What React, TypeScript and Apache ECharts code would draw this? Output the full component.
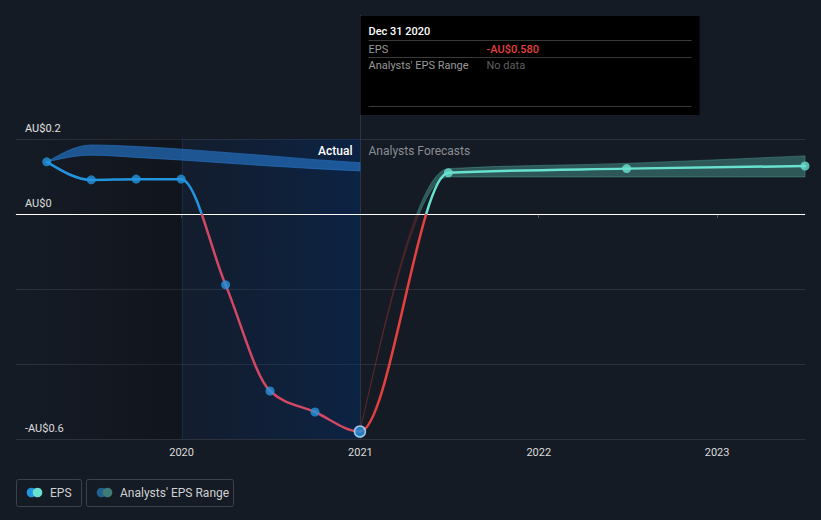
import React, { useEffect, useRef } from 'react';
import * as echarts from 'echarts';

const actualDates = ['2019-03-31', '2019-06-30', '2019-09-30', '2019-12-31', '2020-03-31', '2020-06-30', '2020-09-30', '2020-12-31'];
const actualEps = [0.139, 0.091, 0.093, 0.093, -0.189, -0.472, -0.528, -0.58];
const pastRangeLow = [0.139, 0.157, 0.151, 0.144, 0.136, 0.128, 0.121, 0.115];
const pastRangeHigh = [0.139, 0.184, 0.180, 0.173, 0.164, 0.155, 0.145, 0.137];

const forecastDates = ['2020-12-31', '2021-06-30', '2022-06-30', '2023-06-30'];
const forecastEps = [-0.58, 0.110, 0.121, 0.128];
const forecastLow = [-0.58, 0.099, 0.099, 0.099];
const forecastHigh = [-0.58, 0.121, 0.135, 0.155];

const yLabelValues = [0.2, 0, -0.6];
const xMin = '2019-01-27';
const xMax = '2023-06-30';
const splitDate = '2020-01-01';
const hoverDate = '2020-12-31';
const hoverTitle = 'Dec 31 2020';
const hoverEps = '-AU$0.580';
const hoverRange = 'No data';

const BG = '#151b25';
const BLUE = '#2394df';
const TEAL = '#68e1cf';
const RED = '#e5403f';
const RED_PAST = '#d24862';
const FONT = 'Roboto, "Noto Sans", sans-serif';

const fmtAU = (v: number) => (v < 0 ? `-AU$${Math.abs(v)}` : `AU$${v}`);
const ts = (s: string) => echarts.time.parse(s).getTime();

// the EPS line is one continuous curve: actuals then forecasts
const epsDates = [...actualDates, ...forecastDates.slice(1)];
const epsValues = [...actualEps, ...forecastEps.slice(1)];

// monotone cubic (Fritsch–Carlson) tangents in pixel space
function monoTangents(P: number[][]) {
  const n = P.length;
  const h: number[] = [];
  const s: number[] = [];
  for (let i = 0; i < n - 1; i++) {
    h[i] = P[i + 1][0] - P[i][0];
    s[i] = h[i] ? (P[i + 1][1] - P[i][1]) / h[i] : 0;
  }
  const m: number[] = new Array(n).fill(0);
  for (let i = 1; i < n - 1; i++) {
    const s0 = s[i - 1], s1 = s[i];
    const p = (s0 * h[i] + s1 * h[i - 1]) / (h[i - 1] + h[i]);
    m[i] = (Math.sign(s0) + Math.sign(s1)) * Math.min(Math.abs(s0), Math.abs(s1), 0.5 * Math.abs(p)) || 0;
  }
  if (n === 2) {
    m[0] = m[1] = s[0];
  } else {
    m[0] = (3 * s[0] - m[1]) / 2;
    m[n - 1] = (3 * s[n - 2] - m[n - 2]) / 2;
  }
  return m;
}
function segment(P: number[][], m: number[], i: number, j: number) {
  const dx = (P[j][0] - P[i][0]) / 3;
  return `C${P[i][0] + dx},${P[i][1] + dx * m[i]} ${P[j][0] - dx},${P[j][1] - dx * m[j]} ${P[j][0]},${P[j][1]}`;
}
function bandPath(U: number[][], L: number[][]) {
  const mu = monoTangents(U);
  const ml = monoTangents(L);
  let d = `M${U[0][0]},${U[0][1]}`;
  for (let i = 0; i < U.length - 1; i++) d += segment(U, mu, i, i + 1);
  const n = L.length;
  d += `L${L[n - 1][0]},${L[n - 1][1]}`;
  for (let i = n - 1; i > 0; i--) {
    const dx = (L[i][0] - L[i - 1][0]) / 3;
    d += `C${L[i][0] - dx},${L[i][1] - dx * ml[i]} ${L[i - 1][0] + dx},${L[i - 1][1] + dx * ml[i - 1]} ${L[i - 1][0]},${L[i - 1][1]}`;
  }
  return d + 'Z';
}

export default function App() {
  const ref = useRef<HTMLDivElement>(null);
  useEffect(() => {
    document.body.style.margin = '0';
    document.body.style.background = BG;
    const chart = echarts.init(ref.current!, null, { renderer: 'svg' });
    const pair = (d: string[], v: number[]) => d.map((x, i) => [ts(x), v[i]]);

    const splitGrad = (api: any, above: string, below: string) => {
      const top = api.coord([ts(xMin), 0.2])[1];
      const bottom = api.coord([ts(xMin), -0.6])[1];
      const zero = api.coord([ts(xMin), 0])[1];
      const f = (zero - top) / (bottom - top);
      return new echarts.graphic.LinearGradient(0, top, 0, bottom, [
        { offset: 0, color: above }, { offset: f, color: above },
        { offset: f, color: below }, { offset: 1, color: below },
      ], true);
    };

    const bandSeries = (dates: string[], lo: number[], hi: number[], above: string, below: string, z: number) => ({
      type: 'custom', z, silent: true, clip: false,
      data: dates.map((d, i) => [ts(d), lo[i], hi[i]]),
      encode: { x: 0, y: [1, 2] },
      renderItem: (params: any, api: any) => {
        if (params.dataIndex !== 0) return null;
        const U = dates.map((d, i) => api.coord([ts(d), hi[i]]));
        const L = dates.map((d, i) => api.coord([ts(d), lo[i]]));
        const g = splitGrad(api, above, below);
        return { type: 'path', shape: { pathData: bandPath(U, L) }, style: { fill: g, stroke: g, lineWidth: 1 } };
      },
    });

    chart.setOption({
      animation: false,
      backgroundColor: BG,
      textStyle: { fontFamily: FONT },
      grid: { left: 16, right: 16, top: 139, bottom: 81, containLabel: false },
      xAxis: {
        type: 'time',
        min: ts(xMin),
        max: ts(xMax),
        minInterval: 365 * 24 * 3600 * 1000,
        maxInterval: 366 * 24 * 3600 * 1000,
        axisLine: { lineStyle: { color: '#50555f', width: 1 } },
        axisTick: { show: true, length: 4, lineStyle: { color: '#50555f' } },
        axisLabel: {
          color: '#dcdcdc', fontSize: 11, fontFamily: FONT, margin: 8,
          showMinLabel: false, showMaxLabel: false,
          formatter: (v: number) => String(new Date(v).getFullYear()),
        },
        splitLine: { show: false },
      },
      yAxis: {
        type: 'value',
        min: -0.6,
        max: 0.2,
        interval: 0.2,
        axisLine: { show: false },
        axisTick: { show: false },
        splitLine: { lineStyle: { color: '#2c313b', width: 1 } },
        axisLabel: {
          inside: true,
          margin: 9,
          verticalAlign: 'bottom',
          padding: [0, 0, 5, 0],
          color: '#e2e2e2',
          fontSize: 11,
          fontFamily: FONT,
          formatter: (v: number) => {
            const t = yLabelValues.find((y) => Math.abs(y - v) < 1e-9);
            return t === undefined ? '' : fmtAU(t);
          },
        },
      },
      series: [
        bandSeries(actualDates, pastRangeLow, pastRangeHigh, 'rgba(35,110,190,0.7)', 'rgba(35,110,190,0.7)', 2),
        bandSeries(forecastDates, forecastLow, forecastHigh, 'rgba(75,160,150,0.45)', 'rgba(150,45,45,0.3)', 2),
        {
          type: 'custom', name: 'EPS', z: 3, silent: true, clip: false,
          data: pair(epsDates, epsValues),
          encode: { x: 0, y: 1 },
          renderItem: (params: any, api: any) => {
            const i = params.dataIndex;
            if (i >= epsDates.length - 1) return null;
            const P = epsDates.map((d, k) => api.coord([ts(d), epsValues[k]]));
            const m = monoTangents(P);
            const isActual = i < actualDates.length - 1;
            return {
              type: 'path',
              shape: { pathData: `M${P[i][0]},${P[i][1]}` + segment(P, m, i, i + 1) },
              style: {
                fill: 'none',
                stroke: splitGrad(api, isActual ? BLUE : TEAL, isActual ? RED_PAST : RED),
                lineWidth: 2.5,
                lineCap: 'round',
              },
            };
          },
        },
        {
          type: 'scatter', z: 4, symbolSize: 9,
          data: actualDates.map((d, i) =>
            d === hoverDate
              ? { value: [ts(d), actualEps[i]], symbolSize: 11, itemStyle: { color: BLUE, borderColor: '#bfe0ff', borderWidth: 1.5 } }
              : { value: [ts(d), actualEps[i]] }
          ),
          itemStyle: { color: BLUE },
        },
        {
          type: 'scatter', z: 4, symbolSize: 9,
          data: pair(forecastDates.slice(1), forecastEps.slice(1)),
          itemStyle: { color: TEAL },
        },
      ],
    });

    const px = (d: string) => chart.convertToPixel({ xAxisIndex: 0 }, ts(d)) as number;
    const py = (v: number) => chart.convertToPixel({ yAxisIndex: 0 }, v) as number;
    const top = py(0.2);
    const bottom = py(-0.6);
    const zeroY = py(0);
    const left = px(xMin);
    const right = px(xMax);

    const hx = Math.round(px(hoverDate)) + 0.5;
    const sx = px(splitDate);
    const bx = hx;
    const bw = 339;
    const txt = (text: string, x: number, y: number, fill: string, size = 11, align = 'left', weight: any = 'normal') => ({
      type: 'text', silent: true, z: 20,
      style: { text, x, y, fill, fontSize: size, fontFamily: FONT, fontWeight: weight, textAlign: align, textVerticalAlign: 'middle' },
    });
    const sep = (y: number) => ({
      type: 'line', silent: true, z: 20,
      shape: { x1: bx + 8, y1: y, x2: bx + bw - 8, y2: y },
      style: { stroke: '#3a3a3a', lineWidth: 1 },
    });
    const dot = (cx: number, cy: number, fill: string) => ({ type: 'circle', silent: true, z: 20, shape: { cx, cy, r: 4.8 }, style: { fill } });
    const box = (x: number, w: number) => ({
      type: 'rect', silent: true, z: 20,
      shape: { x: x + 0.5, y: 479.5, width: w, height: 27, r: 2 },
      style: { fill: 'transparent', stroke: '#3c414b', lineWidth: 1 },
    });

    chart.setOption({
      graphic: [
        {
          type: 'rect', silent: true, z: 1, shape: { x: left, y: top, width: sx - left, height: bottom - top },
          style: { fill: new echarts.graphic.LinearGradient(0, 0, 1, 0, [{ offset: 0, color: 'rgba(0,0,0,0)' }, { offset: 1, color: 'rgba(0,0,0,0.22)' }]) },
        },
        {
          type: 'rect', silent: true, z: 1, shape: { x: sx, y: top, width: hx - sx, height: bottom - top },
          style: { fill: new echarts.graphic.LinearGradient(0, 0, 1, 0, [{ offset: 0, color: 'rgba(0,45,110,0.1)' }, { offset: 1, color: 'rgba(0,45,110,0.42)' }]) },
        },
        { type: 'line', silent: true, z: 1, shape: { x1: Math.round(sx) + 0.5, y1: top, x2: Math.round(sx) + 0.5, y2: bottom }, style: { stroke: 'rgba(40,70,120,0.3)', lineWidth: 1 } },
        { type: 'line', silent: true, z: 2, shape: { x1: left, y1: Math.round(zeroY) + 0.5, x2: right, y2: Math.round(zeroY) + 0.5 }, style: { stroke: '#ffffff', lineWidth: 1 } },
        { type: 'line', silent: true, z: 1, shape: { x1: hx, y1: 15, x2: hx, y2: bottom }, style: { stroke: '#2c3547', lineWidth: 1 } },
        { type: 'rect', silent: true, z: 19, shape: { x: bx, y: 16, width: bw, height: 99 }, style: { fill: '#000000' } },
        txt(hoverTitle, bx + 8, 31, '#ffffff', 11, 'left', 500),
        sep(40.5),
        txt('EPS', bx + 8, 49, '#9a9a9a'),
        txt(hoverEps, bx + 126, 49, '#e5403f', 11, 'left', 500),
        sep(57.5),
        txt("Analysts' EPS Range", bx + 8, 65, '#9a9a9a'),
        txt(hoverRange, bx + 126, 65, '#5f5f5f'),
        sep(106.5),
        txt('Actual', hx - 8, 151, '#ffffff', 12, 'right', 500),
        txt('Analysts Forecasts', hx + 8, 151, '#8a8d93', 12, 'left'),
        box(16, 65),
        dot(31.5, 492.5, BLUE),
        dot(37.5, 492.5, TEAL),
        txt('EPS', 50, 493, '#d0d0d0', 12),
        box(86, 147),
        dot(101.5, 492.5, '#22608f'),
        dot(107.5, 492.5, '#3f7c78'),
        txt("Analysts' EPS Range", 120, 493, '#d0d0d0', 12),
      ],
    });

    return () => chart.dispose();
  }, []);
  return <div ref={ref} style={{ position: 'fixed', left: 0, top: 0, width: 821, height: 520 }} />;
}
